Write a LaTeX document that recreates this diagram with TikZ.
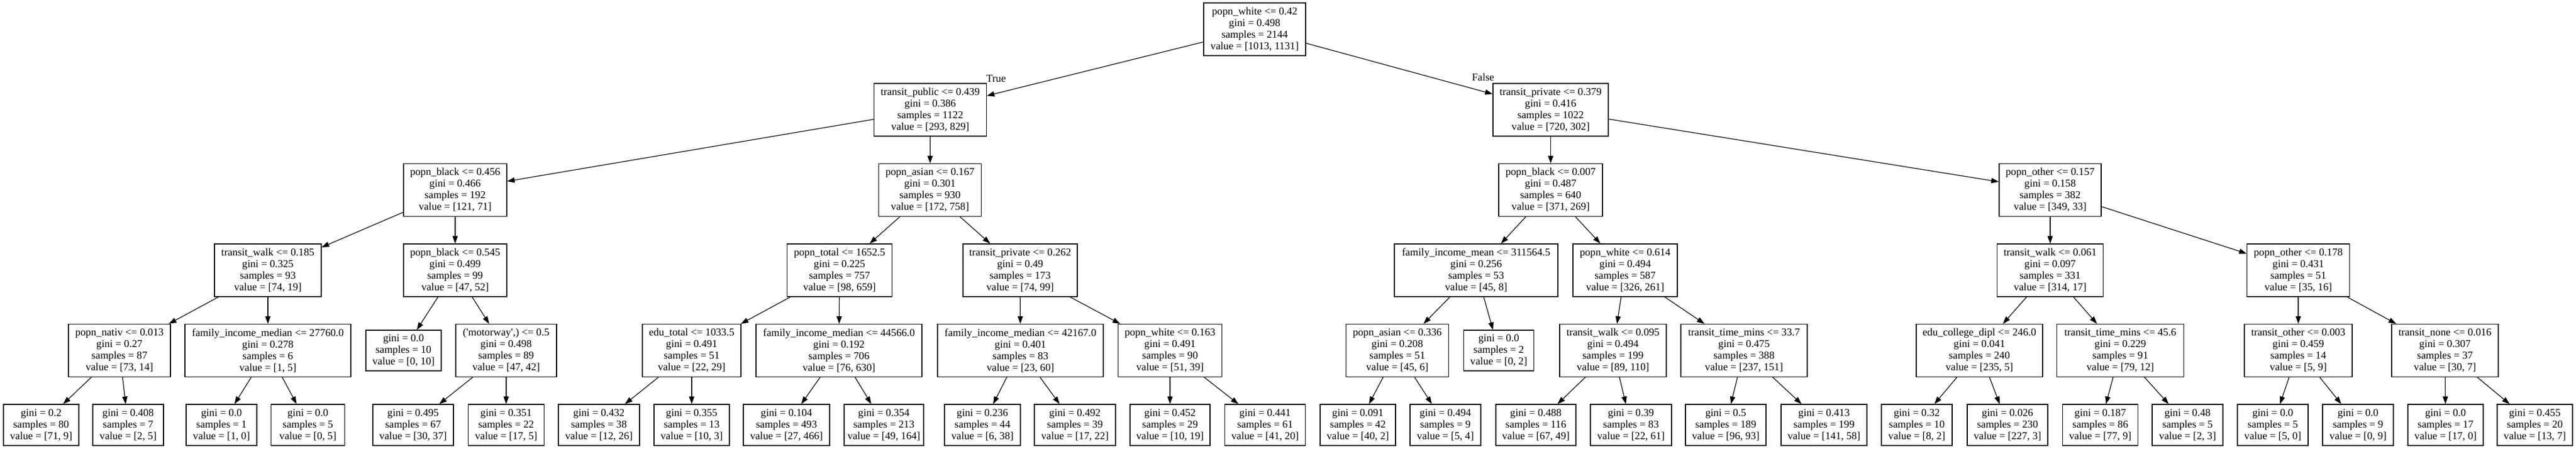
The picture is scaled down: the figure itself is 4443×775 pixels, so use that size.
\documentclass[tikz,border=0pt]{standalone}
\usepackage{fontspec}
\newfontfamily\treefont{Liberation Serif}
\usetikzlibrary{arrows.meta}
\begin{document}
\begin{tikzpicture}[x=0.5pt,y=-0.5pt,
 dnode/.style={draw, line width=0.6pt, inner sep=0pt, align=center, font=\treefont\fontsize{9.1}{10}\selectfont, minimum height=45.5pt},
 lnode/.style={dnode, minimum height=35.5pt},
 qleaf/.style={dnode, minimum height=35pt},
 edge/.style={line width=0.6pt, -{Triangle[length=6.5pt,width=4.5pt]}},
 elabel/.style={font=\treefont\fontsize{9.1}{10}\selectfont, inner sep=0pt}]
\useasboundingbox (0,0) rectangle (4443,775);
% level 0
\node[dnode, minimum width=88pt] (root) at (2164,50.5) {popn\_white <= 0.42\\gini = 0.498\\samples = 2144\\value = [1013, 1131]};
% level 1
\node[dnode, minimum width=97pt] (tp) at (1604.5,189.5) {transit\_public <= 0.439\\gini = 0.386\\samples = 1122\\value = [293, 829]};
\node[dnode, minimum width=99.5pt] (tpr) at (2674.5,189.5) {transit\_private <= 0.379\\gini = 0.416\\samples = 1022\\value = [720, 302]};
% level 2
\node[dnode, minimum width=89pt] (pbA) at (785,328) {popn\_black <= 0.456\\gini = 0.466\\samples = 192\\value = [121, 71]};
\node[dnode, minimum width=88.5pt] (paA) at (1604,328) {popn\_asian <= 0.167\\gini = 0.301\\samples = 930\\value = [172, 758]};
\node[dnode, minimum width=89.5pt] (pbB) at (2674.5,328) {popn\_black <= 0.007\\gini = 0.487\\samples = 640\\value = [371, 269]};
\node[dnode, minimum width=88pt] (poA) at (3536,328) {popn\_other <= 0.157\\gini = 0.158\\samples = 382\\value = [349, 33]};
% level 3
\node[dnode, minimum width=92pt] (twA) at (462,466.5) {transit\_walk <= 0.185\\gini = 0.325\\samples = 93\\value = [74, 19]};
\node[dnode, minimum width=89pt] (pbC) at (785,466.5) {popn\_black <= 0.545\\gini = 0.499\\samples = 99\\value = [47, 52]};
\node[dnode, minimum width=90.5pt] (ptot) at (1448,466.5) {popn\_total <= 1652.5\\gini = 0.225\\samples = 757\\value = [98, 659]};
\node[dnode, minimum width=98.5pt] (tprB) at (1759.5,466.5) {transit\_private <= 0.262\\gini = 0.49\\samples = 173\\value = [74, 99]};
\node[dnode, minimum width=141pt] (fim) at (2546,466.5) {family\_income\_mean <= 311564.5\\gini = 0.256\\samples = 53\\value = [45, 8]};
\node[dnode, minimum width=90pt] (pwB) at (2803,466.5) {popn\_white <= 0.614\\gini = 0.494\\samples = 587\\value = [326, 261]};
\node[dnode, minimum width=91.5pt] (twC) at (3536,466.5) {transit\_walk <= 0.061\\gini = 0.097\\samples = 331\\value = [314, 17]};
\node[dnode, minimum width=88.5pt] (poB) at (3964,466.5) {popn\_other <= 0.178\\gini = 0.431\\samples = 51\\value = [35, 16]};
% level 4
\node[dnode, minimum width=88pt] (pn) at (206,605) {popn\_nativ <= 0.013\\gini = 0.27\\samples = 87\\value = [73, 14]};
\node[dnode, minimum width=143pt] (fmA) at (462,605) {family\_income\_median <= 27760.0\\gini = 0.278\\samples = 6\\value = [1, 5]};
\node[qleaf, minimum width=65pt] (qa) at (696,605) {gini = 0.0\\samples = 10\\value = [0, 10]};
\node[dnode, minimum width=87pt] (mway) at (873,605) {('motorway',) <= 0.5\\gini = 0.498\\samples = 89\\value = [47, 42]};
\node[dnode, minimum width=85pt] (et) at (1193,605) {edu\_total <= 1033.5\\gini = 0.491\\samples = 51\\value = [22, 29]};
\node[dnode, minimum width=143pt] (fmB) at (1447,605) {family\_income\_median <= 44566.0\\gini = 0.192\\samples = 706\\value = [76, 630]};
\node[dnode, minimum width=143pt] (fmC) at (1760,605) {family\_income\_median <= 42167.0\\gini = 0.401\\samples = 83\\value = [23, 60]};
\node[dnode, minimum width=89.5pt] (pwC) at (2018,605) {popn\_white <= 0.163\\gini = 0.491\\samples = 90\\value = [51, 39]};
\node[dnode, minimum width=88.5pt] (paB) at (2410,605) {popn\_asian <= 0.336\\gini = 0.208\\samples = 51\\value = [45, 6]};
\node[qleaf, minimum width=60.5pt] (qb) at (2585,605) {gini = 0.0\\samples = 2\\value = [0, 2]};
\node[dnode, minimum width=92pt] (twB) at (2782,605) {transit\_walk <= 0.095\\gini = 0.494\\samples = 199\\value = [89, 110]};
\node[dnode, minimum width=109pt] (ttA) at (3008,605) {transit\_time\_mins <= 33.7\\gini = 0.475\\samples = 388\\value = [237, 151]};
\node[dnode, minimum width=109pt] (ecd) at (3414,605) {edu\_college\_dipl <= 246.0\\gini = 0.041\\samples = 240\\value = [235, 5]};
\node[dnode, minimum width=109.5pt] (ttB) at (3657,605) {transit\_time\_mins <= 45.6\\gini = 0.229\\samples = 91\\value = [79, 12]};
\node[dnode, minimum width=93pt] (tot) at (3964,605) {transit\_other <= 0.003\\gini = 0.459\\samples = 14\\value = [5, 9]};
\node[dnode, minimum width=92pt] (tno) at (4217,605) {transit\_none <= 0.016\\gini = 0.307\\samples = 37\\value = [30, 7]};
% level 5 leaves
\node[lnode, minimum width=65pt] (l1) at (71,733.5) {gini = 0.2\\samples = 80\\value = [71, 9]};
\node[lnode, minimum width=61pt] (l2) at (221,733.5) {gini = 0.408\\samples = 7\\value = [2, 5]};
\node[lnode, minimum width=61pt] (l3) at (382,733.5) {gini = 0.0\\samples = 1\\value = [1, 0]};
\node[lnode, minimum width=63.5pt] (l4) at (531,733.5) {gini = 0.0\\samples = 5\\value = [0, 5]};
\node[lnode, minimum width=69.5pt] (l5) at (712.5,733.5) {gini = 0.495\\samples = 67\\value = [30, 37]};
\node[lnode, minimum width=65.5pt] (l6) at (873,733.5) {gini = 0.351\\samples = 22\\value = [17, 5]};
\node[lnode, minimum width=70pt] (l7) at (1033,733.5) {gini = 0.432\\samples = 38\\value = [12, 26]};
\node[lnode, minimum width=65pt] (l8) at (1193,733.5) {gini = 0.355\\samples = 13\\value = [10, 3]};
\node[lnode, minimum width=74.5pt] (l9) at (1356.5,733.5) {gini = 0.104\\samples = 493\\value = [27, 466]};
\node[lnode, minimum width=68.5pt] (l10) at (1524.5,733.5) {gini = 0.354\\samples = 213\\value = [49, 164]};
\node[lnode, minimum width=65.5pt] (l11) at (1694.5,733.5) {gini = 0.236\\samples = 44\\value = [6, 38]};
\node[lnode, minimum width=70pt] (l12) at (1854,733.5) {gini = 0.492\\samples = 39\\value = [17, 22]};
\node[lnode, minimum width=69pt] (l13) at (2018,733.5) {gini = 0.452\\samples = 29\\value = [10, 19]};
\node[lnode, minimum width=69.5pt] (l14) at (2182,733.5) {gini = 0.441\\samples = 61\\value = [41, 20]};
\node[lnode, minimum width=65pt] (l15) at (2342,733.5) {gini = 0.091\\samples = 42\\value = [40, 2]};
\node[lnode, minimum width=61pt] (l16) at (2493,733.5) {gini = 0.494\\samples = 9\\value = [5, 4]};
\node[lnode, minimum width=69pt] (l17) at (2649,733.5) {gini = 0.488\\samples = 116\\value = [67, 49]};
\node[lnode, minimum width=70pt] (l18) at (2813,733.5) {gini = 0.39\\samples = 83\\value = [22, 61]};
\node[lnode, minimum width=69.5pt] (l19) at (2976.5,733.5) {gini = 0.5\\samples = 189\\value = [96, 93]};
\node[lnode, minimum width=74pt] (l20) at (3146,733.5) {gini = 0.413\\samples = 199\\value = [141, 58]};
\node[lnode, minimum width=61pt] (l21) at (3306,733.5) {gini = 0.32\\samples = 10\\value = [8, 2]};
\node[lnode, minimum width=69.5pt] (l22) at (3462.5,733.5) {gini = 0.026\\samples = 230\\value = [227, 3]};
\node[lnode, minimum width=65pt] (l23) at (3622.5,733.5) {gini = 0.187\\samples = 86\\value = [77, 9]};
\node[lnode, minimum width=61pt] (l24) at (3773,733.5) {gini = 0.48\\samples = 5\\value = [2, 3]};
\node[lnode, minimum width=61pt] (l25) at (3920,733.5) {gini = 0.0\\samples = 5\\value = [5, 0]};
\node[lnode, minimum width=61pt] (l26) at (4067,733.5) {gini = 0.0\\samples = 9\\value = [0, 9]};
\node[lnode, minimum width=65pt] (l27) at (4218,733.5) {gini = 0.0\\samples = 17\\value = [17, 0]};
\node[lnode, minimum width=65pt] (l28) at (4372,733.5) {gini = 0.455\\samples = 20\\value = [13, 7]};
% edge labels
\node[elabel] (ltrue) at (1718,136) {True};
\node[elabel] (lfalse) at (2558,133) {False};
% edges
\draw[edge] (root) -- (tp);
\draw[edge] (root) -- (tpr);
\draw[edge] (tp) -- (pbA);
\draw[edge] (tp) -- (paA);
\draw[edge] (pbA) -- (twA);
\draw[edge] (pbA) -- (pbC);
\draw[edge] (twA) -- (pn);
\draw[edge] (twA) -- (fmA);
\draw[edge] (pn) -- (l1);
\draw[edge] (pn) -- (l2);
\draw[edge] (fmA) -- (l3);
\draw[edge] (fmA) -- (l4);
\draw[edge] (pbC) -- (qa);
\draw[edge] (pbC) -- (mway);
\draw[edge] (mway) -- (l5);
\draw[edge] (mway) -- (l6);
\draw[edge] (paA) -- (ptot);
\draw[edge] (paA) -- (tprB);
\draw[edge] (ptot) -- (et);
\draw[edge] (ptot) -- (fmB);
\draw[edge] (et) -- (l7);
\draw[edge] (et) -- (l8);
\draw[edge] (fmB) -- (l9);
\draw[edge] (fmB) -- (l10);
\draw[edge] (tprB) -- (fmC);
\draw[edge] (tprB) -- (pwC);
\draw[edge] (fmC) -- (l11);
\draw[edge] (fmC) -- (l12);
\draw[edge] (pwC) -- (l13);
\draw[edge] (pwC) -- (l14);
\draw[edge] (tpr) -- (pbB);
\draw[edge] (tpr) -- (poA);
\draw[edge] (pbB) -- (fim);
\draw[edge] (pbB) -- (pwB);
\draw[edge] (fim) -- (paB);
\draw[edge] (fim) -- (qb);
\draw[edge] (paB) -- (l15);
\draw[edge] (paB) -- (l16);
\draw[edge] (pwB) -- (twB);
\draw[edge] (pwB) -- (ttA);
\draw[edge] (twB) -- (l17);
\draw[edge] (twB) -- (l18);
\draw[edge] (ttA) -- (l19);
\draw[edge] (ttA) -- (l20);
\draw[edge] (poA) -- (twC);
\draw[edge] (poA) -- (poB);
\draw[edge] (twC) -- (ecd);
\draw[edge] (twC) -- (ttB);
\draw[edge] (ecd) -- (l21);
\draw[edge] (ecd) -- (l22);
\draw[edge] (ttB) -- (l23);
\draw[edge] (ttB) -- (l24);
\draw[edge] (poB) -- (tot);
\draw[edge] (poB) -- (tno);
\draw[edge] (tot) -- (l25);
\draw[edge] (tot) -- (l26);
\draw[edge] (tno) -- (l27);
\draw[edge] (tno) -- (l28);
\end{tikzpicture}
\end{document}
